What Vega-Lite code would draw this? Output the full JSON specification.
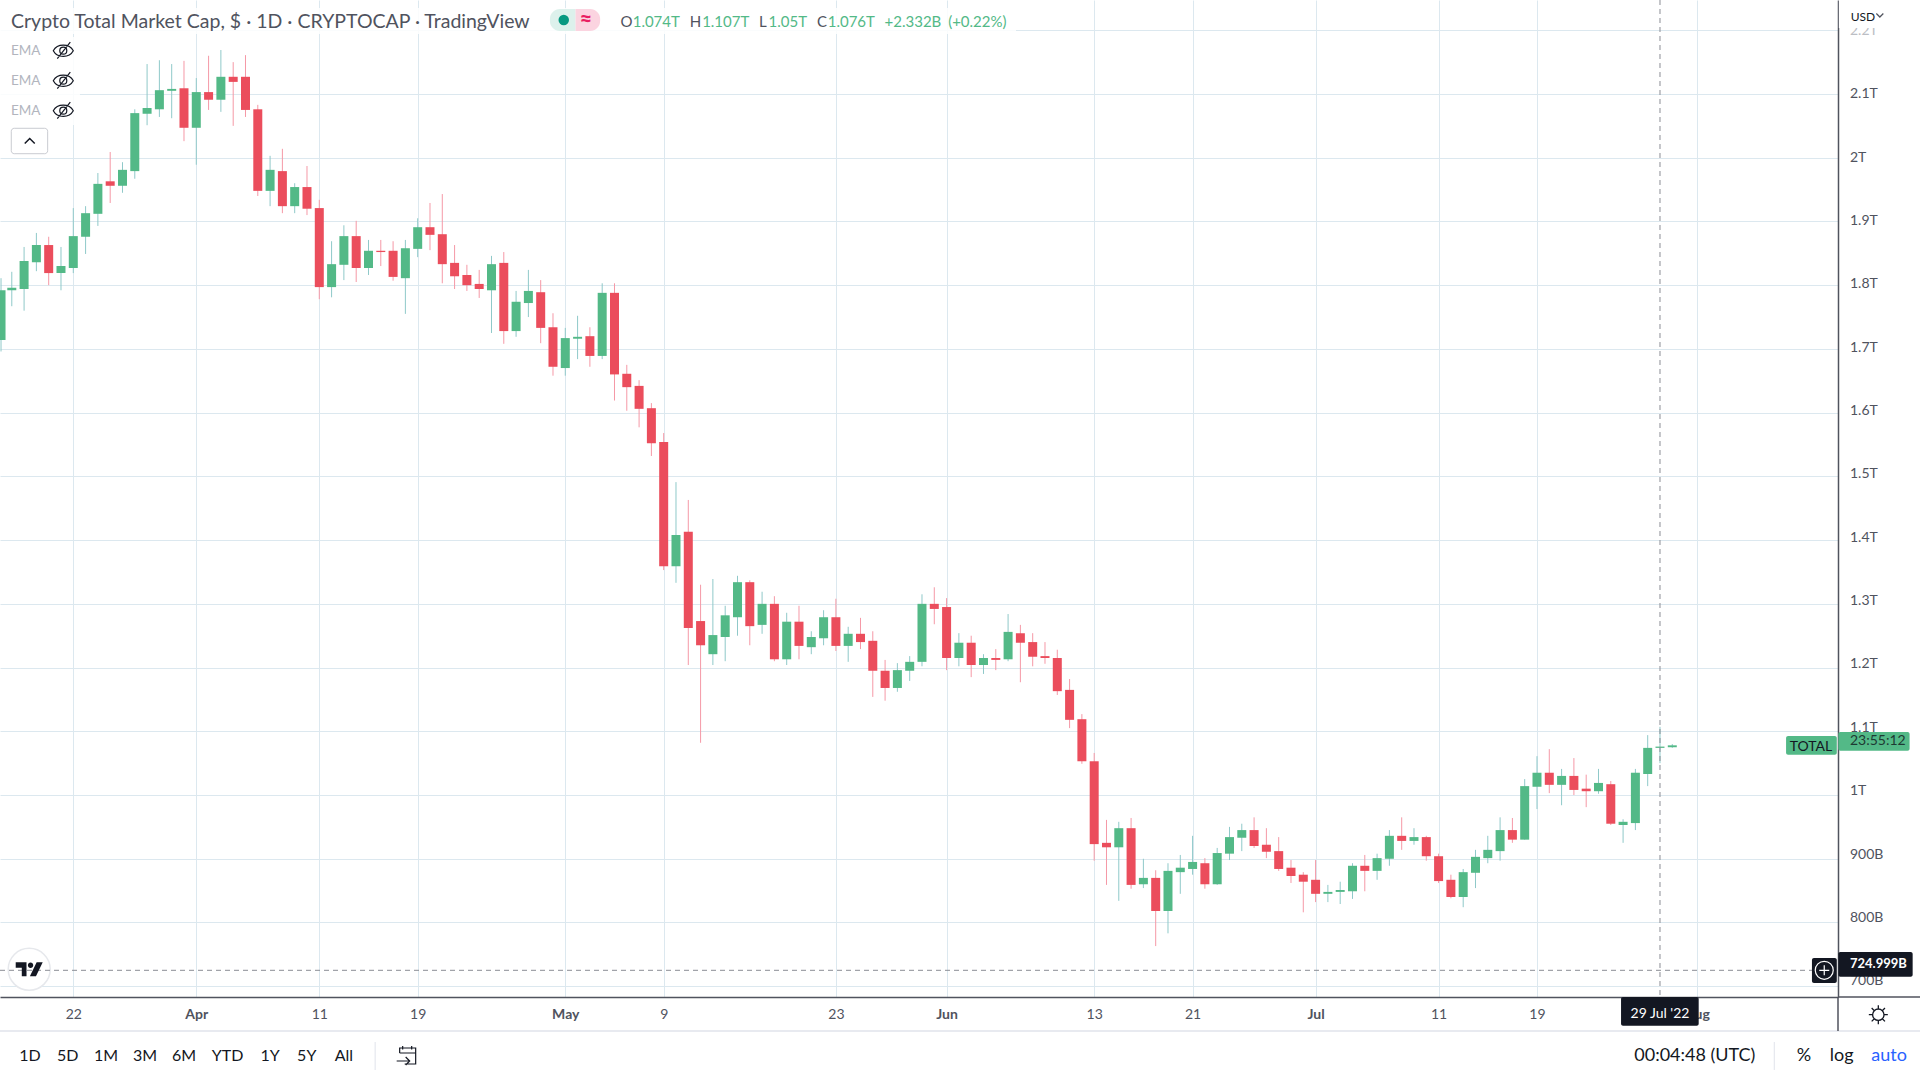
{
  "$schema": "https://vega.github.io/schema/vega-lite/v6.json",
  "width": 1838,
  "height": 997,
  "autosize": {"type": "none"},
  "padding": {"left": 0, "top": 0, "right": 82, "bottom": 83},
  "background": "white",
  "data": {"values": [
    {"date":"2022-03-16T03:00:00Z","open":1714,"high":1811,"low":1696,"close":1792},
    {"date":"2022-03-17","open":1792,"high":1821,"low":1767,"close":1796},
    {"date":"2022-03-18","open":1794,"high":1860,"low":1760,"close":1838},
    {"date":"2022-03-19","open":1836,"high":1882,"low":1822,"close":1863},
    {"date":"2022-03-20","open":1863,"high":1876,"low":1800,"close":1819},
    {"date":"2022-03-21","open":1819,"high":1860,"low":1792,"close":1830},
    {"date":"2022-03-22","open":1827,"high":1921,"low":1819,"close":1877},
    {"date":"2022-03-23","open":1876,"high":1924,"low":1849,"close":1913},
    {"date":"2022-03-24","open":1912,"high":1976,"low":1893,"close":1959},
    {"date":"2022-03-25","open":1963,"high":2009,"low":1929,"close":1956},
    {"date":"2022-03-26","open":1956,"high":1993,"low":1945,"close":1981},
    {"date":"2022-03-27","open":1979,"high":2076,"low":1967,"close":2070},
    {"date":"2022-03-28","open":2069,"high":2147,"low":2051,"close":2078},
    {"date":"2022-03-29","open":2076,"high":2153,"low":2064,"close":2106},
    {"date":"2022-03-30","open":2105,"high":2147,"low":2062,"close":2108},
    {"date":"2022-03-31","open":2109,"high":2152,"low":2026,"close":2047},
    {"date":"2022-04-01","open":2047,"high":2125,"low":1989,"close":2103},
    {"date":"2022-04-02","open":2103,"high":2160,"low":2075,"close":2091},
    {"date":"2022-04-03","open":2091,"high":2169,"low":2072,"close":2127},
    {"date":"2022-04-04","open":2127,"high":2150,"low":2050,"close":2119},
    {"date":"2022-04-05","open":2127,"high":2161,"low":2064,"close":2075},
    {"date":"2022-04-06","open":2076,"high":2083,"low":1940,"close":1948},
    {"date":"2022-04-07","open":1948,"high":2003,"low":1924,"close":1981},
    {"date":"2022-04-08","open":1979,"high":2014,"low":1913,"close":1924},
    {"date":"2022-04-09","open":1924,"high":1960,"low":1913,"close":1954},
    {"date":"2022-04-10","open":1954,"high":1987,"low":1910,"close":1920},
    {"date":"2022-04-11","open":1921,"high":1934,"low":1778,"close":1797},
    {"date":"2022-04-12","open":1797,"high":1869,"low":1781,"close":1833},
    {"date":"2022-04-13","open":1832,"high":1894,"low":1808,"close":1877},
    {"date":"2022-04-14","open":1877,"high":1901,"low":1805,"close":1827},
    {"date":"2022-04-15","open":1827,"high":1871,"low":1816,"close":1854},
    {"date":"2022-04-16","open":1854,"high":1871,"low":1830,"close":1852},
    {"date":"2022-04-17","open":1854,"high":1869,"low":1807,"close":1813},
    {"date":"2022-04-18","open":1811,"high":1871,"low":1755,"close":1858},
    {"date":"2022-04-19","open":1857,"high":1905,"low":1844,"close":1891},
    {"date":"2022-04-20","open":1891,"high":1929,"low":1855,"close":1879},
    {"date":"2022-04-21","open":1880,"high":1943,"low":1803,"close":1833},
    {"date":"2022-04-22","open":1835,"high":1863,"low":1794,"close":1814},
    {"date":"2022-04-23","open":1816,"high":1832,"low":1791,"close":1800},
    {"date":"2022-04-24","open":1802,"high":1824,"low":1780,"close":1794},
    {"date":"2022-04-25","open":1792,"high":1846,"low":1725,"close":1833},
    {"date":"2022-04-26","open":1835,"high":1852,"low":1708,"close":1728},
    {"date":"2022-04-27","open":1728,"high":1791,"low":1719,"close":1774},
    {"date":"2022-04-28","open":1772,"high":1824,"low":1750,"close":1791},
    {"date":"2022-04-29","open":1789,"high":1808,"low":1709,"close":1733},
    {"date":"2022-04-30","open":1734,"high":1756,"low":1658,"close":1672},
    {"date":"2022-05-01","open":1670,"high":1733,"low":1658,"close":1717},
    {"date":"2022-05-02","open":1716,"high":1752,"low":1684,"close":1719},
    {"date":"2022-05-03","open":1720,"high":1734,"low":1672,"close":1689},
    {"date":"2022-05-04","open":1689,"high":1803,"low":1684,"close":1788},
    {"date":"2022-05-05","open":1788,"high":1803,"low":1619,"close":1660},
    {"date":"2022-05-06","open":1661,"high":1675,"low":1603,"close":1640},
    {"date":"2022-05-07","open":1642,"high":1651,"low":1577,"close":1606},
    {"date":"2022-05-08","open":1607,"high":1615,"low":1532,"close":1552},
    {"date":"2022-05-09","open":1554,"high":1568,"low":1353,"close":1359},
    {"date":"2022-05-10","open":1359,"high":1491,"low":1333,"close":1408},
    {"date":"2022-05-11","open":1413,"high":1463,"low":1204,"close":1262},
    {"date":"2022-05-12","open":1273,"high":1330,"low":1082,"close":1235},
    {"date":"2022-05-13","open":1221,"high":1339,"low":1204,"close":1251},
    {"date":"2022-05-14","open":1248,"high":1297,"low":1210,"close":1282},
    {"date":"2022-05-15","open":1279,"high":1344,"low":1250,"close":1334},
    {"date":"2022-05-16","open":1334,"high":1337,"low":1235,"close":1265},
    {"date":"2022-05-17","open":1267,"high":1319,"low":1253,"close":1300},
    {"date":"2022-05-18","open":1300,"high":1312,"low":1210,"close":1213},
    {"date":"2022-05-19","open":1213,"high":1286,"low":1204,"close":1272},
    {"date":"2022-05-20","open":1272,"high":1297,"low":1213,"close":1234},
    {"date":"2022-05-21","open":1232,"high":1257,"low":1221,"close":1248},
    {"date":"2022-05-22","open":1246,"high":1290,"low":1235,"close":1279},
    {"date":"2022-05-23","open":1279,"high":1308,"low":1226,"close":1234},
    {"date":"2022-05-24","open":1234,"high":1264,"low":1209,"close":1253},
    {"date":"2022-05-25","open":1253,"high":1278,"low":1229,"close":1240},
    {"date":"2022-05-26","open":1242,"high":1257,"low":1154,"close":1195},
    {"date":"2022-05-27","open":1195,"high":1212,"low":1148,"close":1168},
    {"date":"2022-05-28","open":1168,"high":1207,"low":1162,"close":1196},
    {"date":"2022-05-29","open":1195,"high":1218,"low":1179,"close":1209},
    {"date":"2022-05-30","open":1209,"high":1315,"low":1202,"close":1300},
    {"date":"2022-05-31","open":1300,"high":1326,"low":1268,"close":1292},
    {"date":"2022-06-01","open":1295,"high":1309,"low":1196,"close":1215},
    {"date":"2022-06-02","open":1215,"high":1254,"low":1202,"close":1239},
    {"date":"2022-06-03","open":1239,"high":1250,"low":1185,"close":1204},
    {"date":"2022-06-04","open":1204,"high":1221,"low":1190,"close":1215},
    {"date":"2022-06-05","open":1215,"high":1229,"low":1196,"close":1212},
    {"date":"2022-06-06","open":1213,"high":1284,"low":1210,"close":1256},
    {"date":"2022-06-07","open":1254,"high":1267,"low":1177,"close":1239},
    {"date":"2022-06-08","open":1240,"high":1254,"low":1202,"close":1217},
    {"date":"2022-06-09","open":1218,"high":1240,"low":1206,"close":1215},
    {"date":"2022-06-10","open":1215,"high":1228,"low":1157,"close":1163},
    {"date":"2022-06-11","open":1165,"high":1182,"low":1105,"close":1118},
    {"date":"2022-06-12","open":1119,"high":1127,"low":1049,"close":1053},
    {"date":"2022-06-13","open":1053,"high":1066,"low":897,"close":923},
    {"date":"2022-06-14","open":925,"high":961,"low":859,"close":918},
    {"date":"2022-06-15","open":918,"high":958,"low":834,"close":948},
    {"date":"2022-06-16","open":948,"high":964,"low":853,"close":859},
    {"date":"2022-06-17","open":860,"high":900,"low":854,"close":870},
    {"date":"2022-06-18","open":870,"high":882,"low":763,"close":818},
    {"date":"2022-06-19","open":818,"high":893,"low":783,"close":881},
    {"date":"2022-06-20","open":879,"high":906,"low":845,"close":886},
    {"date":"2022-06-21","open":884,"high":936,"low":875,"close":895},
    {"date":"2022-06-22","open":893,"high":901,"low":853,"close":860},
    {"date":"2022-06-23","open":860,"high":917,"low":859,"close":909},
    {"date":"2022-06-24","open":908,"high":950,"low":898,"close":934},
    {"date":"2022-06-25","open":933,"high":955,"low":912,"close":945},
    {"date":"2022-06-26","open":945,"high":965,"low":917,"close":920},
    {"date":"2022-06-27","open":922,"high":948,"low":901,"close":911},
    {"date":"2022-06-28","open":912,"high":934,"low":881,"close":884},
    {"date":"2022-06-29","open":886,"high":898,"low":862,"close":873},
    {"date":"2022-06-30","open":875,"high":879,"low":816,"close":864},
    {"date":"2022-07-01","open":867,"high":898,"low":832,"close":845},
    {"date":"2022-07-02","open":845,"high":859,"low":832,"close":848},
    {"date":"2022-07-03","open":848,"high":864,"low":829,"close":851},
    {"date":"2022-07-04","open":849,"high":893,"low":837,"close":889},
    {"date":"2022-07-05","open":889,"high":906,"low":849,"close":881},
    {"date":"2022-07-06","open":881,"high":908,"low":867,"close":901},
    {"date":"2022-07-07","open":900,"high":945,"low":889,"close":936},
    {"date":"2022-07-08","open":936,"high":965,"low":914,"close":928},
    {"date":"2022-07-09","open":928,"high":948,"low":922,"close":934},
    {"date":"2022-07-10","open":934,"high":936,"low":897,"close":904},
    {"date":"2022-07-11","open":904,"high":908,"low":862,"close":865},
    {"date":"2022-07-12","open":867,"high":875,"low":838,"close":840},
    {"date":"2022-07-13","open":840,"high":884,"low":824,"close":879},
    {"date":"2022-07-14","open":878,"high":914,"low":854,"close":903},
    {"date":"2022-07-15","open":901,"high":936,"low":893,"close":914},
    {"date":"2022-07-16","open":912,"high":965,"low":897,"close":945},
    {"date":"2022-07-17","open":945,"high":964,"low":925,"close":930},
    {"date":"2022-07-18","open":930,"high":1025,"low":930,"close":1014},
    {"date":"2022-07-19","open":1013,"high":1061,"low":978,"close":1035},
    {"date":"2022-07-20","open":1035,"high":1072,"low":1003,"close":1016},
    {"date":"2022-07-21","open":1016,"high":1041,"low":984,"close":1030},
    {"date":"2022-07-22","open":1030,"high":1058,"low":1000,"close":1008},
    {"date":"2022-07-23","open":1010,"high":1032,"low":981,"close":1006},
    {"date":"2022-07-24","open":1006,"high":1041,"low":1002,"close":1019},
    {"date":"2022-07-25","open":1017,"high":1022,"low":953,"close":955},
    {"date":"2022-07-26","open":953,"high":962,"low":925,"close":958},
    {"date":"2022-07-27","open":956,"high":1041,"low":945,"close":1035},
    {"date":"2022-07-28","open":1033,"high":1094,"low":1014,"close":1074},
    {"date":"2022-07-29","open":1074,"high":1107,"low":1050,"close":1076},
    {"date":"2022-07-30","open":1075,"high":1080,"low":1074,"close":1078}
  ]},
  "encoding": {
    "x": {
      "field": "date",
      "type": "temporal",
      "scale": {"type": "utc", "domain": ["2022-03-16T01:00:00Z", "2022-08-12T11:20:00Z"], "padding": 0},
      "axis": {
        "title": null,
        "orient": "bottom",
        "grid": true,
        "gridColor": "#DCE8EF",
        "gridWidth": 1,
        "ticks": false,
        "domain": true,
        "domainColor": "#50535E",
        "domainWidth": 1.5,
        "labelColor": "#50535E",
        "labelFontSize": 14,
        "labelPadding": 10,
        "labelOverlap": false,
        "labelFlush": false,
        "labelExpr": "utcdate(datum.value) == 1 ? utcFormat(datum.value, '%b') : utcFormat(datum.value, '%-d')",
        "labelFontWeight": {"condition": {"test": "utcdate(datum.value) == 1", "value": "bold"}, "value": "normal"},
        "values": [
          {"year": 2022, "month": 3, "date": 22, "utc": true},
          {"year": 2022, "month": 4, "date": 1, "utc": true},
          {"year": 2022, "month": 4, "date": 11, "utc": true},
          {"year": 2022, "month": 4, "date": 19, "utc": true},
          {"year": 2022, "month": 5, "date": 1, "utc": true},
          {"year": 2022, "month": 5, "date": 9, "utc": true},
          {"year": 2022, "month": 5, "date": 23, "utc": true},
          {"year": 2022, "month": 6, "date": 1, "utc": true},
          {"year": 2022, "month": 6, "date": 13, "utc": true},
          {"year": 2022, "month": 6, "date": 21, "utc": true},
          {"year": 2022, "month": 7, "date": 1, "utc": true},
          {"year": 2022, "month": 7, "date": 11, "utc": true},
          {"year": 2022, "month": 7, "date": 19, "utc": true},
          {"year": 2022, "month": 8, "date": 1, "utc": true}
        ]
      }
    },
    "y": {
      "field": "price",
      "type": "quantitative",
      "scale": {"domain": [683.1, 2247.5], "nice": false, "zero": false},
      "axis": {
        "title": null,
        "orient": "right",
        "grid": true,
        "gridColor": "#DCE8EF",
        "gridWidth": 1,
        "ticks": false,
        "labels": false,
        "domain": true,
        "domainColor": "#50535E",
        "domainWidth": 1.5,
        "values": [700, 800, 900, 1000, 1100, 1200, 1300, 1400, 1500, 1600, 1700, 1800, 1900, 2000, 2100, 2200]
      }
    }
  },
  "layer": [
    {
      "data": {"values": [
        {"date": "2022-03-16T01:00:00Z", "date2": "2022-06-06T15:30:00Z", "price": 2235, "price2": 2194.1},
        {"date": "2022-03-16T01:00:00Z", "date2": "2022-03-22T13:00:00Z", "price": 2189.4, "price2": 2051.4}
      ]},
      "mark": {"type": "rect", "color": "white", "opacity": 0.85},
      "encoding": {"x2": {"field": "date2"}, "y2": {"field": "price2"}}
    },
    {
      "mark": {"type": "rule", "strokeWidth": 1},
      "encoding": {
        "y": {"field": "high", "type": "quantitative", "scale": {"domain": [683.1, 2247.5], "nice": false, "zero": false}, "axis": {"title": null, "orient": "right", "grid": true, "gridColor": "#DCE8EF", "gridWidth": 1, "ticks": false, "labels": false, "domain": true, "domainColor": "#50535E", "domainWidth": 1.5, "values": [700, 800, 900, 1000, 1100, 1200, 1300, 1400, 1500, 1600, 1700, 1800, 1900, 2000, 2100, 2200]}},
        "y2": {"field": "low"},
        "color": {"condition": {"test": "datum.close >= datum.open", "value": "#8FC9C9"}, "value": "#F598A6"}
      }
    },
    {
      "mark": {"type": "bar", "size": 9},
      "encoding": {
        "y": {"field": "open", "type": "quantitative", "stack": null, "scale": {"domain": [683.1, 2247.5], "nice": false, "zero": false}, "axis": {"title": null, "orient": "right", "grid": true, "gridColor": "#DCE8EF", "gridWidth": 1, "ticks": false, "labels": false, "domain": true, "domainColor": "#50535E", "domainWidth": 1.5, "values": [700, 800, 900, 1000, 1100, 1200, 1300, 1400, 1500, 1600, 1700, 1800, 1900, 2000, 2100, 2200]}},
        "y2": {"field": "close"},
        "color": {"condition": {"test": "datum.close >= datum.open", "value": "#53B987"}, "value": "#EB4D5C"}
      }
    },
    {
      "data": {"values": [{"date": "2022-03-18T10:00:00Z", "price": 726.6}]},
      "mark": {"type": "point", "shape": "circle", "filled": true, "fill": "white", "stroke": "#E6E8EC", "strokeWidth": 1.5, "size": 1764, "opacity": 1}
    },
    {
      "data": {"values": [{"date": "2022-07-29", "price": 2247.5, "price2": 683.1}]},
      "mark": {"type": "rule", "color": "#8A8D94", "strokeWidth": 1, "strokeDash": [5, 4]},
      "encoding": {"y2": {"field": "price2"}}
    },
    {
      "data": {"values": [{"date": "2022-03-16T01:00:00Z", "date2": "2022-08-10T08:30:00Z", "price": 724.999}]},
      "mark": {"type": "rule", "color": "#8A8D94", "strokeWidth": 1, "strokeDash": [5, 4]},
      "encoding": {"x2": {"field": "date2"}}
    },
    {
      "data": {"values": [{"date": "2022-03-18T10:00:00Z", "price": 726.6}]},
      "mark": {"type": "point", "shape": "M-1,-0.52H-0.2V0.52H-0.55V-0.12H-1ZM0.3,-0.3A0.2,0.2 0 1 1 -0.1,-0.3A0.2,0.2 0 1 1 0.3,-0.3ZM0.55,-0.52H1L0.5,0.52H0.05Z", "filled": true, "fill": "#131722", "stroke": null, "size": 729, "opacity": 1}
    },
    {
      "data": {"values": [
        {"date": "2022-08-12T11:20:00Z", "date2": "2022-08-19T03:30:00Z", "price": 683.1}
      ]},
      "mark": {"type": "rule", "color": "#50535E", "strokeWidth": 1.5},
      "encoding": {"x2": {"field": "date2"}}
    },
    {
      "data": {"values": [
        {"date": "2022-03-16T01:00:00Z", "date2": "2022-08-19T03:30:00Z", "price": 629.7}
      ]},
      "mark": {"type": "rule", "color": "#E0E3EB", "strokeWidth": 1.5},
      "encoding": {"x2": {"field": "date2"}}
    },
    {
      "data": {"values": [{"date": "2022-08-12T11:20:00Z", "price": 683.1, "price2": 629.7}]},
      "mark": {"type": "rule", "color": "#50535E", "strokeWidth": 1.5},
      "encoding": {"y2": {"field": "price2"}}
    },
    {
      "data": {"values": [
        {"date": "2022-04-15T13:00:00Z", "price": 612.5, "price2": 568.6},
        {"date": "2022-08-07T07:00:00Z", "price": 612.5, "price2": 568.6}
      ]},
      "mark": {"type": "rule", "color": "#E0E3EB", "strokeWidth": 1},
      "encoding": {"y2": {"field": "price2"}}
    },
    {
      "data": {"values": [
        {"date": "2022-08-13T10:45:00Z", "price": 2099.6, "label": "2.1T"},
        {"date": "2022-08-13T10:45:00Z", "price": 2000.1, "label": "2T"},
        {"date": "2022-08-13T10:45:00Z", "price": 1900.8, "label": "1.9T"},
        {"date": "2022-08-13T10:45:00Z", "price": 1801.3, "label": "1.8T"},
        {"date": "2022-08-13T10:45:00Z", "price": 1702, "label": "1.7T"},
        {"date": "2022-08-13T10:45:00Z", "price": 1602.5, "label": "1.6T"},
        {"date": "2022-08-13T10:45:00Z", "price": 1503, "label": "1.5T"},
        {"date": "2022-08-13T10:45:00Z", "price": 1403.7, "label": "1.4T"},
        {"date": "2022-08-13T10:45:00Z", "price": 1304.2, "label": "1.3T"},
        {"date": "2022-08-13T10:45:00Z", "price": 1204.9, "label": "1.2T"},
        {"date": "2022-08-13T10:45:00Z", "price": 1105.4, "label": "1.1T"},
        {"date": "2022-08-13T10:45:00Z", "price": 1005.9, "label": "1T"},
        {"date": "2022-08-13T10:45:00Z", "price": 906.6, "label": "900B"},
        {"date": "2022-08-13T10:45:00Z", "price": 807.1, "label": "800B"},
        {"date": "2022-08-13T10:45:00Z", "price": 707.8, "label": "700B"}
      ]},
      "mark": {"type": "text", "align": "left", "baseline": "middle", "fontSize": 14, "color": "#50535E"},
      "encoding": {"text": {"field": "label"}}
    },
    {
      "data": {"values": [{"date": "2022-08-13T10:45:00Z", "price": 2199, "label": "2.2T"}]},
      "mark": {"type": "text", "align": "left", "baseline": "middle", "fontSize": 14, "color": "#BCBEC4"},
      "encoding": {"text": {"field": "label"}}
    },
    {
      "data": {"values": [{"date": "2022-08-12T13:00:00Z", "date2": "2022-08-19T03:30:00Z", "price": 2247.5, "price2": 2203.6}]},
      "mark": {"type": "rect", "color": "white"},
      "encoding": {"x2": {"field": "date2"}, "y2": {"field": "price2"}}
    },
    {
      "data": {"values": [
        {"date": "2022-08-08T06:00:00Z", "date2": "2022-08-12T09:00:00Z", "price": 1092.6, "price2": 1063.3},
        {"date": "2022-08-12T12:00:00Z", "date2": "2022-08-18T07:00:00Z", "price": 1098.9, "price2": 1069.6}
      ]},
      "mark": {"type": "rect", "color": "#53B987", "cornerRadius": 2},
      "encoding": {"x2": {"field": "date2"}, "y2": {"field": "price2"}}
    },
    {
      "data": {"values": [
        {"date": "2022-08-12T12:00:00Z", "date2": "2022-08-18T13:00:00Z", "price": 753.7, "price2": 715},
        {"date": "2022-08-10T08:30:00Z", "date2": "2022-08-12T09:00:00Z", "price": 744.3, "price2": 705.1},
        {"date": "2022-07-25T20:00:00Z", "date2": "2022-08-01T03:30:00Z", "price": 683.1, "price2": 638.1}
      ]},
      "mark": {"type": "rect", "color": "#131722", "cornerRadius": 2},
      "encoding": {"x2": {"field": "date2"}, "y2": {"field": "price2"}}
    },
    {
      "data": {"values": [{"date": "2022-08-10T06:40:00Z", "price": 1075.5, "label": "TOTAL"}]},
      "mark": {"type": "text", "align": "center", "baseline": "middle", "fontSize": 14, "color": "#131722"},
      "encoding": {"text": {"field": "label"}}
    },
    {
      "data": {"values": [{"date": "2022-08-13T10:45:00Z", "price": 1084.8, "label": "23:55:12"}]},
      "mark": {"type": "text", "align": "left", "baseline": "middle", "fontSize": 14, "color": "#1E3A33"},
      "encoding": {"text": {"field": "label"}}
    },
    {
      "data": {"values": [{"date": "2022-08-13T10:45:00Z", "price": 734.9, "label": "724.999B"}]},
      "mark": {"type": "text", "align": "left", "baseline": "middle", "fontSize": 13, "fontWeight": "bold", "color": "white"},
      "encoding": {"text": {"field": "label"}}
    },
    {
      "data": {"values": [{"date": "2022-07-29", "price": 656.4, "label": "29 Jul '22"}]},
      "mark": {"type": "text", "align": "center", "baseline": "middle", "fontSize": 14, "color": "white"},
      "encoding": {"text": {"field": "label"}}
    },
    {
      "data": {"values": [{"date": "2022-08-11T08:30:00Z", "price": 725}]},
      "mark": {"type": "point", "shape": "circle", "filled": false, "stroke": "white", "strokeWidth": 1.2, "size": 324, "opacity": 1}
    },
    {
      "data": {"values": [{"date": "2022-08-11T08:30:00Z", "price": 725}]},
      "mark": {"type": "point", "shape": "M-1,0H1M0,-1V1", "filled": false, "stroke": "white", "strokeWidth": 1.2, "size": 100, "opacity": 1}
    },
    {
      "data": {"values": [{"date": "2022-08-15T18:00:00Z", "price": 655.3}]},
      "mark": {"type": "point", "shape": "M0.6,0A0.6,0.6 0 1 1 -0.6,0A0.6,0.6 0 1 1 0.6,0ZM1,0H0.6M-1,0H-0.6M0,1V0.6M0,-1V-0.6M0.7,0.7L0.42,0.42M-0.7,-0.7L-0.42,-0.42M0.7,-0.7L0.42,-0.42M-0.7,0.7L-0.42,0.42", "filled": false, "stroke": "#131722", "strokeWidth": 1.3, "size": 361, "opacity": 1}
    },
    {
      "data": {"values": [{"date": "2022-03-16T22:30:00Z", "price": 2213, "label": "Crypto Total Market Cap, $ · 1D · CRYPTOCAP · TradingView"}]},
      "mark": {"type": "text", "align": "left", "baseline": "middle", "fontSize": 19.5, "color": "#50535E"},
      "encoding": {"text": {"field": "label"}}
    },
    {
      "data": {"values": [{"date": "2022-04-29T18:00:00Z", "date2": "2022-05-01T20:00:00Z", "price": 2233.4, "price2": 2198.9}]},
      "mark": {"type": "rect", "color": "#DDF1EC", "cornerRadiusTopLeft": 10, "cornerRadiusBottomLeft": 10},
      "encoding": {"x2": {"field": "date2"}, "y2": {"field": "price2"}}
    },
    {
      "data": {"values": [{"date": "2022-05-01T20:00:00Z", "date2": "2022-05-03T20:00:00Z", "price": 2233.4, "price2": 2198.9}]},
      "mark": {"type": "rect", "color": "#FBD4E0", "cornerRadiusTopRight": 10, "cornerRadiusBottomRight": 10},
      "encoding": {"x2": {"field": "date2"}, "y2": {"field": "price2"}}
    },
    {
      "data": {"values": [{"date": "2022-04-30T21:00:00Z", "price": 2216.1}]},
      "mark": {"type": "point", "shape": "circle", "filled": true, "fill": "#089981", "stroke": null, "size": 110, "opacity": 1}
    },
    {
      "data": {"values": [{"date": "2022-05-02T16:00:00Z", "price": 2216.1, "label": "≈"}]},
      "mark": {"type": "text", "align": "center", "baseline": "middle", "fontSize": 22, "fontWeight": "bold", "color": "#E91E63"},
      "encoding": {"text": {"field": "label"}}
    },
    {
      "data": {"values": [
        {"date": "2022-05-05T11:30:00Z", "price": 2213.5, "label": "O"},
        {"date": "2022-05-11T03:00:00Z", "price": 2213.5, "label": "H"},
        {"date": "2022-05-16T18:00:00Z", "price": 2213.5, "label": "L"},
        {"date": "2022-05-21T11:00:00Z", "price": 2213.5, "label": "C"}
      ]},
      "mark": {"type": "text", "align": "left", "baseline": "middle", "fontSize": 15, "color": "#50535E"},
      "encoding": {"text": {"field": "label"}}
    },
    {
      "data": {"values": [
        {"date": "2022-05-06T11:30:00Z", "price": 2213.5, "label": "1.074T"},
        {"date": "2022-05-12T03:00:00Z", "price": 2213.5, "label": "1.107T"},
        {"date": "2022-05-17T12:30:00Z", "price": 2213.5, "label": "1.05T"},
        {"date": "2022-05-22T08:00:00Z", "price": 2213.5, "label": "1.076T"},
        {"date": "2022-05-26T23:00:00Z", "price": 2213.5, "label": "+2.332B"},
        {"date": "2022-06-01T03:00:00Z", "price": 2213.5, "label": "(+0.22%)"}
      ]},
      "mark": {"type": "text", "align": "left", "baseline": "middle", "fontSize": 15, "color": "#53B987"},
      "encoding": {"text": {"field": "label"}}
    },
    {
      "data": {"values": [
        {"date": "2022-03-16T22:30:00Z", "price": 2168, "label": "EMA"},
        {"date": "2022-03-16T22:30:00Z", "price": 2120.9, "label": "EMA"},
        {"date": "2022-03-16T22:30:00Z", "price": 2073.8, "label": "EMA"}
      ]},
      "mark": {"type": "text", "align": "left", "baseline": "middle", "fontSize": 13.5, "color": "#B2B5BE"},
      "encoding": {"text": {"field": "label"}}
    },
    {
      "data": {"values": [
        {"date": "2022-03-21T04:30:00Z", "price": 2168},
        {"date": "2022-03-21T04:30:00Z", "price": 2120.9},
        {"date": "2022-03-21T04:30:00Z", "price": 2073.8}
      ]},
      "mark": {"type": "point", "shape": "M-1,0C-0.6,-0.75 0.6,-0.75 1,0C0.6,0.75 -0.6,0.75 -1,0ZM0.35,0A0.35,0.35 0 1 1 -0.35,0A0.35,0.35 0 1 1 0.35,0M-0.6,0.8L0.7,-0.85", "filled": false, "stroke": "#131722", "strokeWidth": 1.2, "size": 400, "opacity": 1}
    },
    {
      "data": {"values": [{"date": "2022-03-16T23:00:00Z", "date2": "2022-03-19T22:00:00Z", "price": 2046.2, "price2": 2006.3}]},
      "mark": {"type": "rect", "fill": "white", "stroke": "#C9CBD1", "strokeWidth": 1, "cornerRadius": 3},
      "encoding": {"x2": {"field": "date2"}, "y2": {"field": "price2"}}
    },
    {
      "data": {"values": [{"date": "2022-03-18T11:00:00Z", "price": 2026.3}]},
      "mark": {"type": "point", "shape": "M-1,0.5L0,-0.5L1,0.5", "filled": false, "stroke": "#131722", "strokeWidth": 1.5, "size": 100, "opacity": 1}
    },
    {
      "data": {"values": [
        {"date": "2022-03-18T11:30:00Z", "price": 590.5, "label": "1D"},
        {"date": "2022-03-21T13:00:00Z", "price": 590.5, "label": "5D"},
        {"date": "2022-03-24T16:00:00Z", "price": 590.5, "label": "1M"},
        {"date": "2022-03-27T20:00:00Z", "price": 590.5, "label": "3M"},
        {"date": "2022-03-31T00:00:00Z", "price": 590.5, "label": "6M"},
        {"date": "2022-04-03T13:00:00Z", "price": 590.5, "label": "YTD"},
        {"date": "2022-04-07T00:00:00Z", "price": 590.5, "label": "1Y"},
        {"date": "2022-04-09T23:30:00Z", "price": 590.5, "label": "5Y"},
        {"date": "2022-04-13T00:00:00Z", "price": 590.5, "label": "All"}
      ]},
      "mark": {"type": "text", "align": "center", "baseline": "middle", "fontSize": 16, "color": "#131722"},
      "encoding": {"text": {"field": "label"}}
    },
    {
      "data": {"values": [
        {"date": "2022-07-31T20:00:00Z", "price": 590.5, "label": "00:04:48 (UTC)"},
        {"date": "2022-08-09T17:00:00Z", "price": 590.5, "label": "%"},
        {"date": "2022-08-12T18:30:00Z", "price": 590.5, "label": "log"}
      ]},
      "mark": {"type": "text", "align": "center", "baseline": "middle", "fontSize": 18, "color": "#131722"},
      "encoding": {"text": {"field": "label"}}
    },
    {
      "data": {"values": [{"date": "2022-08-16T15:00:00Z", "price": 590.5, "label": "auto"}]},
      "mark": {"type": "text", "align": "center", "baseline": "middle", "fontSize": 18, "color": "#2962FF"},
      "encoding": {"text": {"field": "label"}}
    },
    {
      "data": {"values": [{"date": "2022-04-18T02:30:00Z", "price": 590.5}]},
      "mark": {"type": "point", "shape": "M-0.7,-0.3V-0.8H0.9V0.8H-0.2M-0.7,-0.3H0.9M-0.4,-1V-0.65M0.5,-1V-0.65M-1,0.5H0.2M-0.1,0.1L0.3,0.5L-0.1,0.9", "filled": false, "stroke": "#131722", "strokeWidth": 1.2, "size": 400, "opacity": 1}
    },
    {
      "data": {"values": [{"date": "2022-08-13T12:00:00Z", "price": 2221.5, "label": "USD"}]},
      "mark": {"type": "text", "align": "left", "baseline": "middle", "fontSize": 12, "color": "#131722"},
      "encoding": {"text": {"field": "label"}}
    },
    {
      "data": {"values": [{"date": "2022-08-15T21:00:00Z", "price": 2223.5}]},
      "mark": {"type": "point", "shape": "M-1,-0.5L0,0.5L1,-0.5", "filled": false, "stroke": "#50535E", "strokeWidth": 1.2, "size": 49, "opacity": 1}
    }
  ],
  "config": {
    "font": "Lato",
    "view": {"stroke": null}
  }
}
